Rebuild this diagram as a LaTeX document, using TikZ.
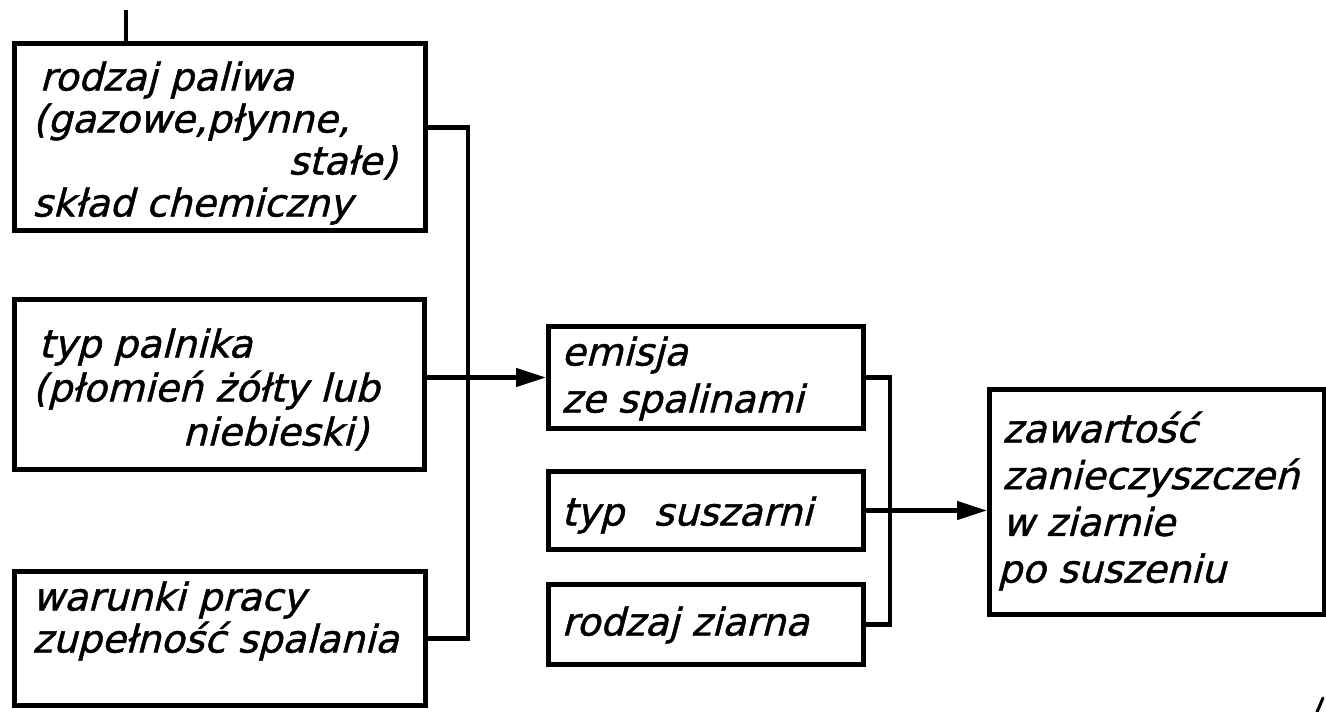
\documentclass[tikz,border=0pt]{standalone}
\usepackage{fontspec}
\setmainfont{DejaVu Sans}
\newfontfamily\hand{DejaVu Sans}[FakeSlant=0.26,FakeBold=1.2]
\usetikzlibrary{arrows.meta}
% #1 width, #2 height, #3 first baseline from top, #4 left pad, #5 baselineskip, #6 text
\newcommand\btext[6]{\parbox[c][#2][t]{#1}{\hand\fontsize{38.5}{#5}\selectfont
  \raggedright\leftskip=#4\relax
  \vspace*{\dimexpr#3-34pt\relax}\rule{0pt}{34pt}#6}}
\tikzset{
  box/.style={draw=black, line width=5pt, inner sep=0pt, anchor=north west, fill=white},
  conn/.style={draw=black, line width=4.5pt, line join=miter},
  arr/.style={conn, -{Triangle[length=30pt,width=18pt]}},
}
\begin{document}
\begin{tikzpicture}[x=1pt,y=-1pt]
\fill[white] (0,0) rectangle (1326,712);
\useasboundingbox (0,0) rectangle (1326,712);

% left column
\node[box] (b1) at (12,41) {\btext{411pt}{187pt}{47pt}{18pt}{42}{%
  \hspace*{7pt}rodzaj paliwa\\
  (gazowe,płynne,\\
  \hspace*{256pt}stałe)\\
  skład chemiczny}};
\node[box] (b2) at (12,297) {\btext{410pt}{170pt}{58pt}{18pt}{44}{%
  \hspace*{6pt}typ palnika\\
  (płomień żółty lub\\
  \hspace*{150pt}niebieski)}};
\node[box] (b3) at (12,569) {\btext{411pt}{134pt}{39pt}{18pt}{42}{%
  warunki pracy\\
  zupełność spalania}};

% middle column
\node[box] (em) at (546,324) {\btext{315pt}{102pt}{39pt}{13pt}{47}{%
  emisja\\
  ze spalinami}};
\node[box] (ts) at (546,469) {\btext{315pt}{78pt}{54pt}{13pt}{47}{%
  typ\hspace{30pt}suszarni}};
\node[box] (rz) at (546,582) {\btext{315pt}{80pt}{51pt}{13pt}{47}{%
  rodzaj ziarna}};

% right box
\node[box] (zw) at (987,387) {\btext{335pt}{225pt}{53pt}{13pt}{46.7}{%
  zawartość\\
  zanieczyszczeń\\
  w ziarnie\\
  \hspace*{-5pt}po suszeniu}};

% junction coordinates
\coordinate (j1) at (468,0);
\coordinate (j2) at (890,0);
\coordinate (tk) at (126,10);
\coordinate (mk) at (1317,712);

% connectors
\draw[conn] ([yshift=9.5pt]b1.east) -- ([yshift=9.5pt]b1.east -| j1) |- (b3.east);
\draw[arr] (b2.east |- em.west) -- (em.west);
\draw[conn] (em.east) -- (em.east -| j2) |- (rz.east);
\draw[arr] (ts.east) -- (ts.east -| zw.west);

% stray marks of the original drawing
\draw[conn] (tk) -- (tk |- b1.north);
\draw[line width=3pt, line cap=round] (mk) -- ++(6,-14);
\end{tikzpicture}
\end{document}
